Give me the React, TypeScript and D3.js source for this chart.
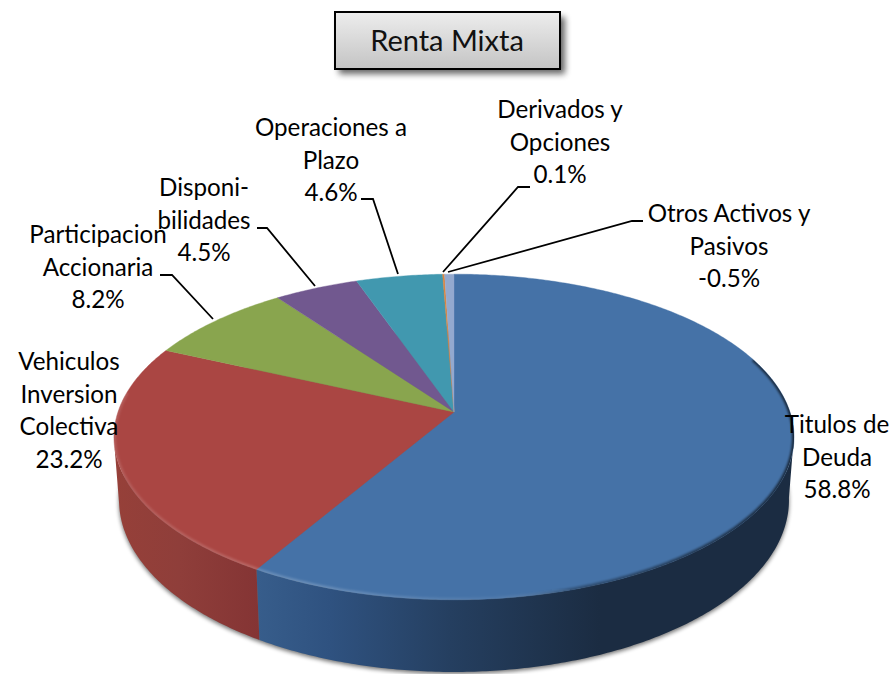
import React from "react";
import * as d3 from "d3";

const categories = [
  "Titulos de Deuda",
  "Vehiculos Inversion Colectiva",
  "Participacion Accionaria",
  "Disponibilidades",
  "Operaciones a Plazo",
  "Derivados y Opciones",
  "Otros Activos y Pasivos",
];
const seriesValues = [58.8, 23.2, 8.2, 4.5, 4.6, 0.1, -0.5];
const sliceColors = ["#4572A7", "#AA4643", "#89A54E", "#71588F", "#4198AF", "#DB843D", "#93A9CF"];
const labelLines = [
  ["Titulos de", "Deuda"],
  ["Vehiculos", "Inversion", "Colectiva"],
  ["Participacion", "Accionaria"],
  ["Disponi-", "bilidades"],
  ["Operaciones a", "Plazo"],
  ["Derivados y", "Opciones"],
  ["Otros Activos y", "Pasivos"],
];
const title = "Renta Mixta";

// layout of the labels: centre x, first baseline, optional leader polyline
const labelAnchors: { x: number; y: number; leader?: [number, number][] }[] = [
  { x: 837, y: 433 },
  { x: 69, y: 370 },
  { x: 98, y: 243, leader: [[160, 275], [172, 275], [213, 319]] },
  { x: 204, y: 196, leader: [[257, 228], [267, 228], [315, 286]] },
  { x: 331, y: 136, leader: [[361, 199], [373, 199], [398, 274]] },
  { x: 560, y: 118, leader: [[530, 187], [518, 187], [443, 272]] },
  { x: 729, y: 222, leader: [[643, 221], [632, 221], [448, 272]] },
];
const LINE_H = 32.5;
const FONT = "Lato, 'Noto Sans', sans-serif";

const W = 893;
const H = 674;
const K = 0.1535;
const topFace = { cx: 454, cy: 412, a: 336, b: 159 };
const bottomFace = { cx: 454, cy: 473.5, a: 331, b: 168 };
const TAN0 = Math.acos(-K);
const TAN1 = 2 * Math.PI - TAN0;

type Face = typeof topFace;
// small camera correction of the angle, vanishing at 12 o'clock
const warp = (t: number) => t - 0.021 * Math.max(0, Math.min(1, t / 3, (2 * Math.PI - t) / 0.6));
const project = (f: Face, t0: number): [number, number] => {
  const t = warp(t0);
  const u = Math.sin(t);
  const v = -Math.cos(t);
  const w = 1 - K * v;
  return [f.cx + (f.a * u) / w, f.cy + (f.b * v) / w];
};
const samples = (t0: number, t1: number) => {
  const n = Math.max(2, Math.ceil(Math.abs(t1 - t0) / 0.01));
  return d3.range(n + 1).map((i) => t0 + ((t1 - t0) * i) / n);
};
const line = d3.line<[number, number]>();
const arcPts = (f: Face, t0: number, t1: number) => samples(t0, t1).map((t) => project(f, t));

const pieGen = d3
  .pie<number>()
  .sort(null)
  .value((d) => Math.abs(d))
  .startAngle(0)
  .endAngle(2 * Math.PI);
const slices = pieGen(seriesValues);

const slicePath = (s: d3.PieArcDatum<number>) =>
  line([[topFace.cx, topFace.cy], ...arcPts(topFace, s.startAngle, s.endAngle)])! + "Z";

const sidePath = (s: d3.PieArcDatum<number>) => {
  const t0 = Math.max(s.startAngle, TAN0);
  const t1 = Math.min(s.endAngle, TAN1);
  if (t1 <= t0) return null;
  return line([...arcPts(topFace, t0, t1), ...arcPts(bottomFace, t1, t0)])! + "Z";
};

const topOutline = line(arcPts(topFace, 0, 2 * Math.PI))! + "Z";
const bottomOutline = line(arcPts(bottomFace, 0, 2 * Math.PI))! + "Z";
const frontRim = line(arcPts(topFace, TAN0 - 0.5, TAN1 + 0.3))!;

const sideGradients: Record<number, [number, string][]> = {
  0: [[257, "#375D8B"], [330, "#2F5280"], [450, "#253F60"], [600, "#1B2C42"], [800, "#1B2C42"]],
  1: [[115, "#964039"], [180, "#8F3E3A"], [260, "#843434"]],
};

export default function App() {
  const pct = (v: number) => `${d3.format(".1f")(Math.abs(v))}%`;
  return (
    <svg
      width={W}
      height={H}
      viewBox={`0 0 ${W} ${H}`}
      style={{ position: "absolute", left: 0, top: 0, display: "block", background: "#fff" }}
    >
      <defs>
        <linearGradient id="titleFill" x1="0" y1="0" x2="0" y2="1">
          <stop offset="0" stopColor="#EDEDED" />
          <stop offset="1" stopColor="#C4C4C4" />
        </linearGradient>
        <filter id="blurTitle" x="-20%" y="-40%" width="140%" height="180%">
          <feGaussianBlur stdDeviation="3" />
        </filter>
        <filter id="blurPie" x="-10%" y="-10%" width="120%" height="120%">
          <feGaussianBlur stdDeviation="2" />
        </filter>
        <filter id="blurRim" x="-10%" y="-10%" width="120%" height="120%">
          <feGaussianBlur stdDeviation="1" />
        </filter>
        <clipPath id="topClip">
          <path d={topOutline} />
        </clipPath>
        {Object.entries(sideGradients).map(([k, stops]) => {
          const x0 = stops[0][0];
          const x1 = stops[stops.length - 1][0];
          return (
            <linearGradient key={k} id={`side${k}`} gradientUnits="userSpaceOnUse" x1={x0} x2={x1} y1={0} y2={0}>
              {stops.map(([x, c], i) => (
                <stop key={i} offset={(x - x0) / (x1 - x0)} stopColor={c} />
              ))}
            </linearGradient>
          );
        })}
        <linearGradient id="rimGrad" gradientUnits="userSpaceOnUse" x1={114} x2={794} y1={0} y2={0}>
          <stop offset="0" stopColor="#fff" stopOpacity="0.12" />
          <stop offset="0.29" stopColor="#fff" stopOpacity="0.2" />
          <stop offset="0.56" stopColor="#fff" stopOpacity="0.06" />
          <stop offset="0.68" stopColor="#000" stopOpacity="0.3" />
          <stop offset="1" stopColor="#000" stopOpacity="0.65" />
        </linearGradient>
      </defs>

      {/* title box */}
      <rect x={339} y={17} width={226} height={57} fill="#000" opacity={0.6} filter="url(#blurTitle)" />
      <rect x={335} y={12} width={225} height={57} fill="url(#titleFill)" stroke="#000" strokeWidth={2} />
      <text x={447} y={51} textAnchor="middle" fontFamily={FONT} fontSize={29} fill="#111">
        {title}
      </text>

      {/* pie */}
      <path d={bottomOutline} transform="translate(0,2)" fill="#000" opacity={0.55} filter="url(#blurPie)" />
      {slices.map((s, i) => {
        const d = sidePath(s);
        return d ? <path key={i} d={d} fill={`url(#side${i})`} /> : null;
      })}
      {slices.map((s, i) => (
        <path key={categories[i]} d={slicePath(s)} fill={sliceColors[i]} stroke={sliceColors[i]} strokeWidth={0.4} />
      ))}
      <g clipPath="url(#topClip)">
        <path d={frontRim} fill="none" stroke="url(#rimGrad)" strokeWidth={4} filter="url(#blurRim)" />
      </g>

      {/* leaders */}
      {labelAnchors.map((a, i) =>
        a.leader ? <path key={i} d={line(a.leader)!} fill="none" stroke="#000" strokeWidth={1.8} /> : null
      )}

      {/* labels */}
      {labelAnchors.map((a, i) => (
        <text key={i} textAnchor="middle" fontFamily={FONT} fontSize={24.2} fill="#000">
          {[...labelLines[i], (seriesValues[i] < 0 ? "-" : "") + pct(seriesValues[i])].map((t, j) => (
            <tspan key={j} x={a.x} y={a.y + j * LINE_H}>
              {t}
            </tspan>
          ))}
        </text>
      ))}
    </svg>
  );
}
